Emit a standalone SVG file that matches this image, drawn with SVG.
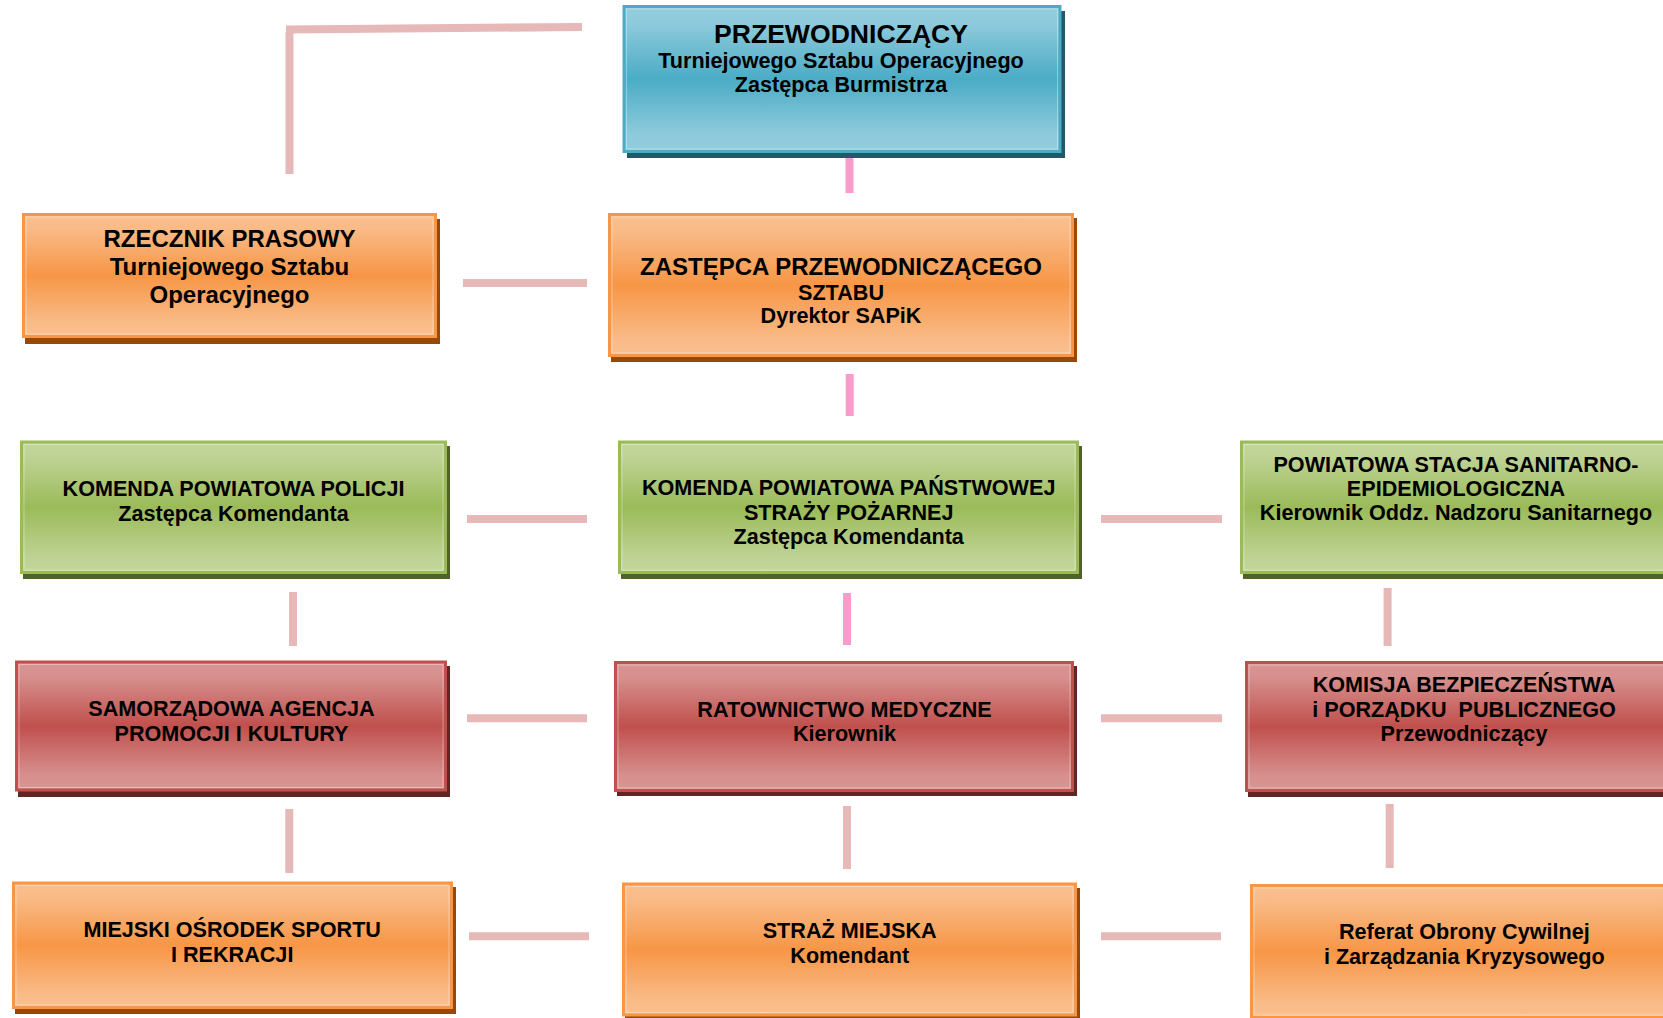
<svg xmlns="http://www.w3.org/2000/svg" width="1663" height="1018" viewBox="0 0 1663 1018">
<defs>
<linearGradient id="gBlue" x1="0" y1="0" x2="0" y2="1">
<stop offset="0" stop-color="#93cddd"/><stop offset="0.12" stop-color="#8dcadb"/><stop offset="0.5" stop-color="#4bacc6"/><stop offset="0.88" stop-color="#8dcadb"/><stop offset="1" stop-color="#93cddd"/>
</linearGradient>
<linearGradient id="gOrange" x1="0" y1="0" x2="0" y2="1">
<stop offset="0" stop-color="#fac090"/><stop offset="0.12" stop-color="#f9ba86"/><stop offset="0.5" stop-color="#f79646"/><stop offset="0.88" stop-color="#f9ba86"/><stop offset="1" stop-color="#fac090"/>
</linearGradient>
<linearGradient id="gGreen" x1="0" y1="0" x2="0" y2="1">
<stop offset="0" stop-color="#c3d69b"/><stop offset="0.12" stop-color="#bed294"/><stop offset="0.5" stop-color="#9bbb59"/><stop offset="0.88" stop-color="#bed294"/><stop offset="1" stop-color="#c3d69b"/>
</linearGradient>
<linearGradient id="gRed" x1="0" y1="0" x2="0" y2="1">
<stop offset="0" stop-color="#d99694"/><stop offset="0.12" stop-color="#d68f8d"/><stop offset="0.5" stop-color="#c0504d"/><stop offset="0.88" stop-color="#d68f8d"/><stop offset="1" stop-color="#d99694"/>
</linearGradient>
</defs>
<style>
.sh-b{fill:#215968}.sh-o{fill:#984807}.sh-g{fill:#4f6228}.sh-r{fill:#632523}
.bx{stroke-width:3}
.b{fill:url(#gBlue);stroke:#4bacc6}
.o{fill:url(#gOrange);stroke:#f79646}
.g{fill:url(#gGreen);stroke:#9bbb59}
.r{fill:url(#gRed);stroke:#c0504d}
.hl{fill:none;stroke:#ffffff;stroke-opacity:0.35;stroke-width:1}
text{font-family:"Liberation Sans",Arial,sans-serif;font-weight:bold;fill:#000;text-anchor:middle;font-size:21.6px}
.t26{font-size:26.6px}.t24{font-size:24px}
.cl{stroke:#e6b8b7;stroke-width:8;fill:none;stroke-linecap:butt}
.cp{stroke:#f99bcb;stroke-width:8;fill:none;stroke-linecap:butt}
</style>
<rect width="1663" height="1018" fill="#ffffff"/>
<g id="connectors">
<line class="cl" x1="289.5" y1="32" x2="289.5" y2="174"/>
<line class="cl" x1="286" y1="29.5" x2="582" y2="27" stroke-width="7"/>
<line class="cp" x1="849.5" y1="152" x2="849.5" y2="193"/>
<line class="cl" x1="463" y1="283" x2="587" y2="283"/>
<line class="cp" x1="849.7" y1="374" x2="849.7" y2="416"/>
<line class="cl" x1="467" y1="519" x2="587" y2="519"/>
<line class="cl" x1="1101" y1="519" x2="1222" y2="519"/>
<line class="cl" x1="293" y1="592" x2="293" y2="646"/>
<line class="cp" x1="847" y1="593" x2="847" y2="645"/>
<line class="cl" x1="1387.6" y1="588" x2="1387.6" y2="646"/>
<line class="cl" x1="467" y1="718.3" x2="587" y2="718.3"/>
<line class="cl" x1="1101" y1="718.3" x2="1222" y2="718.3"/>
<line class="cl" x1="289.3" y1="809" x2="289.3" y2="873"/>
<line class="cl" x1="847" y1="806" x2="847" y2="869"/>
<line class="cl" x1="1389.7" y1="804" x2="1389.7" y2="868"/>
<line class="cl" x1="469" y1="936.3" x2="589" y2="936.3"/>
<line class="cl" x1="1101" y1="936.3" x2="1221" y2="936.3"/>
</g>
<g id="n-przewodniczacy">
<rect class="sh-b" x="627" y="11" width="438" height="147"/>
<rect class="bx b" x="624" y="6.5" width="436" height="145"/>
<rect class="hl" x="626.5" y="9" width="431" height="140"/>
<text class="t26" x="841" y="42.7">PRZEWODNICZĄCY</text>
<text x="841" y="67.7">Turniejowego Sztabu Operacyjnego</text>
<text x="841" y="91.7">Zastępca Burmistrza</text>
</g>
<g id="n-rzecznik">
<rect class="sh-o" x="25" y="219" width="415" height="125"/>
<rect class="bx o" x="23.5" y="214.5" width="412" height="122"/>
<rect class="hl" x="26" y="217" width="407" height="117"/>
<text class="t24" x="229.5" y="246.7">RZECZNIK PRASOWY</text>
<text class="t24" x="229.5" y="275">Turniejowego Sztabu</text>
<text class="t24" x="229.5" y="302.5">Operacyjnego</text>
</g>
<g id="n-zastepca">
<rect class="sh-o" x="611" y="218" width="466" height="144"/>
<rect class="bx o" x="609.5" y="214.5" width="463" height="141"/>
<rect class="hl" x="612" y="217" width="458" height="136"/>
<text class="t24" x="841" y="275">ZASTĘPCA PRZEWODNICZĄCEGO</text>
<text x="841" y="300">SZTABU</text>
<text x="841" y="323.3">Dyrektor SAPiK</text>
</g>
<g id="n-kpp">
<rect class="sh-g" x="23" y="446" width="427" height="133"/>
<rect class="bx g" x="21.5" y="442" width="424" height="130.5"/>
<rect class="hl" x="24" y="444.5" width="419" height="125.5"/>
<text x="233.5" y="495.7">KOMENDA POWIATOWA POLICJI</text>
<text x="233.5" y="520.7">Zastępca Komendanta</text>
</g>
<g id="n-kpsp">
<rect class="sh-g" x="621" y="446" width="461" height="133"/>
<rect class="bx g" x="619.5" y="442" width="458" height="130.5"/>
<rect class="hl" x="622" y="444.5" width="453" height="125.5"/>
<text x="848.7" y="495">KOMENDA POWIATOWA PAŃSTWOWEJ</text>
<text x="848.7" y="520">STRAŻY POŻARNEJ</text>
<text x="848.7" y="544">Zastępca Komendanta</text>
</g>
<g id="n-psse">
<rect class="sh-g" x="1243" y="446" width="432" height="133"/>
<rect class="bx g" x="1241.5" y="442" width="429" height="130.5"/>
<rect class="hl" x="1244" y="444.5" width="424" height="125.5"/>
<text x="1456" y="471.7">POWIATOWA STACJA SANITARNO-</text>
<text x="1456" y="496">EPIDEMIOLOGICZNA</text>
<text x="1456" y="520">Kierownik Oddz. Nadzoru Sanitarnego</text>
</g>
<g id="n-sapik">
<rect class="sh-r" x="18" y="666" width="432" height="131"/>
<rect class="bx r" x="16.5" y="662" width="429" height="128"/>
<rect class="hl" x="19" y="664.5" width="424" height="123"/>
<text x="231.5" y="716">SAMORZĄDOWA AGENCJA</text>
<text x="231.5" y="740.7">PROMOCJI I KULTURY</text>
</g>
<g id="n-rm">
<rect class="sh-r" x="617" y="666" width="460" height="130"/>
<rect class="bx r" x="615.5" y="662.5" width="457" height="128"/>
<rect class="hl" x="618" y="665" width="452" height="123"/>
<text x="844.5" y="717.3">RATOWNICTWO MEDYCZNE</text>
<text x="844.5" y="740.7">Kierownik</text>
</g>
<g id="n-komisja">
<rect class="sh-r" x="1248" y="666" width="440" height="131"/>
<rect class="bx r" x="1246.5" y="662.5" width="437" height="128"/>
<rect class="hl" x="1249" y="665" width="432" height="123"/>
<text x="1464" y="691.7">KOMISJA BEZPIECZEŃSTWA</text>
<text x="1464" y="716.7" xml:space="preserve">i PORZĄDKU  PUBLICZNEGO</text>
<text x="1464" y="740.7">Przewodniczący</text>
</g>
<g id="n-mosir">
<rect class="sh-o" x="15" y="887" width="441" height="127"/>
<rect class="bx o" x="13.5" y="883" width="438" height="124.5"/>
<rect class="hl" x="16" y="885.5" width="433" height="119.5"/>
<text x="232.2" y="936.7">MIEJSKI OŚRODEK SPORTU</text>
<text x="232.2" y="961.7">I REKRACJI</text>
</g>
<g id="n-sm">
<rect class="sh-o" x="625" y="888" width="455" height="133"/>
<rect class="bx o" x="623.5" y="884" width="452" height="131"/>
<rect class="hl" x="626" y="886.5" width="447" height="126"/>
<text x="849.7" y="938.3">STRAŻ MIEJSKA</text>
<text x="849.7" y="962.7">Komendant</text>
</g>
<g id="n-referat">
<rect class="sh-o" x="1253" y="889" width="440" height="135"/>
<rect class="bx o" x="1251.5" y="885.5" width="437" height="132"/>
<rect class="hl" x="1254" y="888" width="432" height="127"/>
<text x="1464.3" y="939">Referat Obrony Cywilnej</text>
<text x="1464.3" y="964">i Zarządzania Kryzysowego</text>
</g>
</svg>
